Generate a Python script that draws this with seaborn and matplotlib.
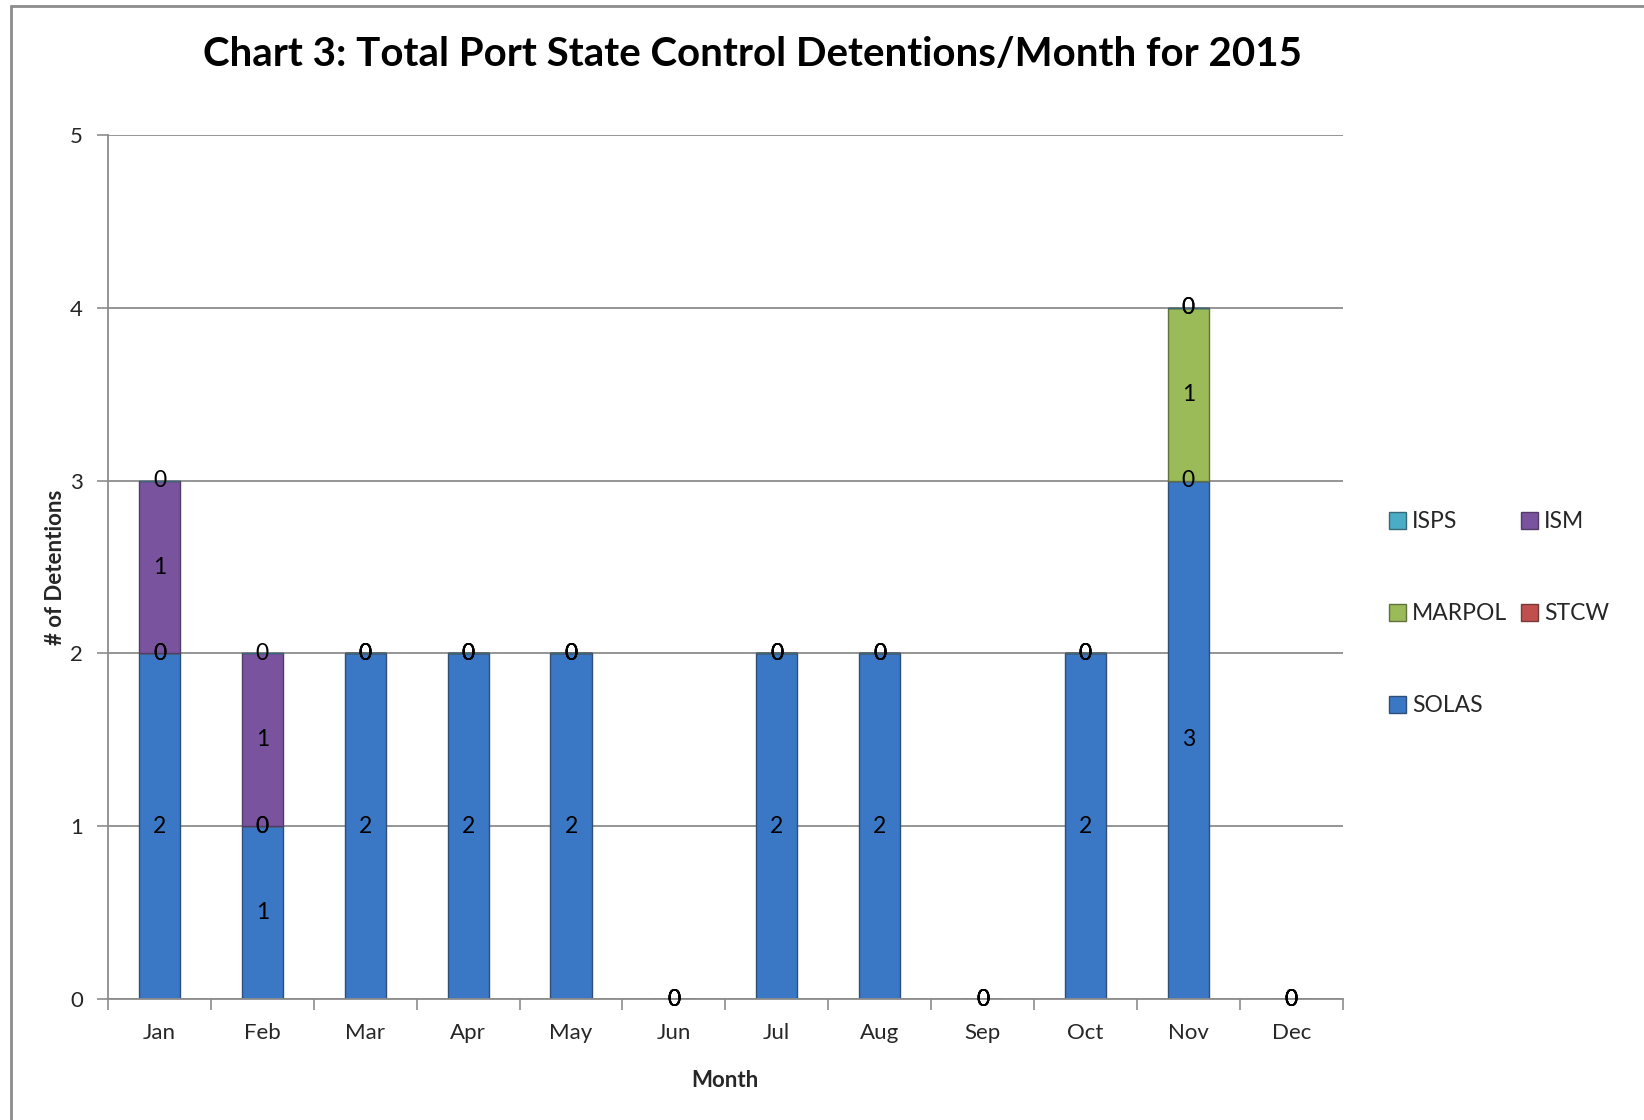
import numpy as np
import pandas as pd
import matplotlib
matplotlib.use("Agg")
import matplotlib.pyplot as plt
from matplotlib.lines import Line2D
import seaborn as sns

months = ["Jan", "Feb", "Mar", "Apr", "May", "Jun", "Jul", "Aug", "Sep", "Oct", "Nov", "Dec"]
solas = [2, 1, 2, 2, 2, 0, 2, 2, 0, 2, 3, 0]
stcw = [0, 0, 0, 0, 0, 0, 0, 0, 0, 0, 0, 0]
marpol = [0, 0, 0, 0, 0, 0, 0, 0, 0, 0, 1, 0]
ism = [1, 1, 0, 0, 0, 0, 0, 0, 0, 0, 0, 0]
isps = [0, 0, 0, 0, 0, 0, 0, 0, 0, 0, 0, 0]

# stacking order bottom -> top
series = [("SOLAS", solas, "#3a78c6"),
          ("STCW", stcw, "#c0504d"),
          ("MARPOL", marpol, "#9bbb59"),
          ("ISM", ism, "#7a539f"),
          ("ISPS", isps, "#4bacc6")]

sns.set_style("white")
plt.rcParams['font.family'] = ['Lato', 'DejaVu Sans']

fig = plt.figure(figsize=(16.44, 11.20), dpi=100)
ax = fig.add_axes([0.0657, 0.108, 0.751, 0.7715])

bottom = np.zeros(len(months))
handles = {}
for name, vals, col in series:
    df = pd.DataFrame({"Month": months, "Count": vals})
    sns.barplot(data=df, x="Month", y="Count", order=months, color=col,
                width=0.4, bottom=bottom, errorbar=None, ax=ax,
                edgecolor=sns.dark_palette(col, 3)[1], linewidth=1, saturation=1)
    vals = np.array(vals, dtype=float)
    for i, v in enumerate(vals):
        ypos = bottom[i] + v / 2
        ax.text(i, ypos, f"{int(v)}", ha="center", va="center", fontsize=16.5, color="black")
    handles[name] = plt.Rectangle((0, 0), 1, 1, facecolor=col,
                                  edgecolor=sns.dark_palette(col, 3)[1])
    bottom = bottom + vals

ax.set_ylim(0, 5)
ax.set_xlim(-0.5, len(months) - 0.5)
ax.set_yticks(range(6))
ax.yaxis.grid(True, color="#8c8c8c", linewidth=1.3)
ax.set_axisbelow(True)
ax.tick_params(axis="y", length=8, width=1.2, color="#8c8c8c", labelsize=16, pad=10, left=True)

# tick marks at category boundaries, labels at centres
ax.set_xticks(np.arange(-0.5, len(months), 1.0))
ax.set_xticklabels([])
ax.set_xticks(range(len(months)), minor=True)
ax.set_xticklabels(months, minor=True)
ax.tick_params(axis="x", which="major", length=8, width=1.2, color="#8c8c8c", bottom=True)
ax.tick_params(axis="x", which="minor", length=0, labelsize=16, pad=17)

for s in ["top", "right"]:
    ax.spines[s].set_visible(False)
for s in ["left", "bottom"]:
    ax.spines[s].set_color("#8c8c8c")
    ax.spines[s].set_linewidth(1.3)

ax.set_xlabel("Month", fontsize=16, fontweight="bold", labelpad=20)
ax.set_ylabel("# of Detentions", fontsize=16, fontweight="bold", labelpad=3)

fig.text(0.458, 0.951, "Chart 3: Total Port State Control Detentions/Month for 2015",
         ha="center", va="center", fontsize=29, fontweight="bold", color="black")

order = ["ISPS", "MARPOL", "SOLAS", "ISM", "STCW"]
fig.legend([handles[n] for n in order], order, loc="upper left",
           bbox_to_anchor=(0.8325, 0.562), ncol=2, frameon=False, fontsize=16.5,
           labelspacing=3.1, handlelength=0.75, handleheight=0.75, handletextpad=0.25,
           columnspacing=0.6)

# chart-area border (left and top edges)
fig.add_artist(Line2D([0.0065, 0.0065], [0.0, 0.9945], transform=fig.transFigure,
                      color="#8c8c8c", linewidth=2))
fig.add_artist(Line2D([0.0065, 1.0], [0.9945, 0.9945], transform=fig.transFigure,
                      color="#8c8c8c", linewidth=2))

fig.savefig("out.png", dpi=100, facecolor="white")
